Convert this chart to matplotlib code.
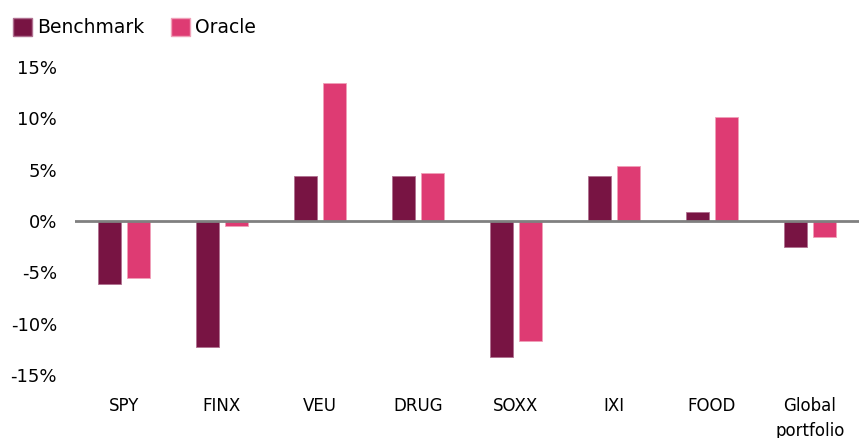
import matplotlib.pyplot as plt
import numpy as np
from matplotlib.patches import Patch

# data (percent)
tickers = ["SPY", "FINX", "VEU", "DRUG", "SOXX", "IXI", "FOOD", "Global\nportfolio"]
benchmark = [-6.1, -12.3, 4.4, 4.4, -13.2, 4.4, 0.9, -2.5]
oracle = [-5.6, -0.5, 13.4, 4.7, -11.7, 5.4, 10.1, -1.6]
yticks = [-15, -10, -5, 0, 5, 10, 15]

BENCH_C = "#781443"
ORACLE_C = "#DE3B73"

plt.rcParams['font.family'] = ['DejaVu Sans']

fig = plt.figure(figsize=(8.59, 4.38), dpi=100)
ax = fig.add_axes([75/859, 63/438, 1 - 75/859, 308/438])

x = np.arange(len(tickers))
w = 0.235
ax.bar(x - 0.03 - w/2, benchmark, w, color=BENCH_C, edgecolor="#b07090", linewidth=0.6)
ax.bar(x + 0.03 + w/2, oracle, w, color=ORACLE_C, edgecolor="#f0a0b8", linewidth=0.6)
ax.axhline(0, color="#808080", lw=2, zorder=3)

ax.set_xlim(-0.5, 7.5)
ax.set_ylim(-15, 15)
ax.set_yticks(yticks)
ax.set_yticklabels([f"{v}%" for v in yticks], fontsize=13)
ax.set_xticks(x)
ax.set_xticklabels(tickers, fontsize=12, va="top", linespacing=1.45)
ax.tick_params(axis="both", length=0)
ax.tick_params(axis="x", pad=16)
ax.tick_params(axis="y", pad=13)
for s in ax.spines.values():
    s.set_visible(False)

handles = [Patch(facecolor=BENCH_C, edgecolor="#b07090", label="Benchmark"),
           Patch(facecolor=ORACLE_C, edgecolor="#f0a0b8", label="Oracle")]
fig.legend(handles=handles, loc="upper left", bbox_to_anchor=(0.0, 0.99), ncol=2,
           frameon=False, handlelength=1.0, handleheight=1.1, handletextpad=0.3,
           columnspacing=1.4, borderaxespad=0.4, borderpad=0.3,
           prop={"size": 13.5})

fig.savefig("out.png", dpi=100)
